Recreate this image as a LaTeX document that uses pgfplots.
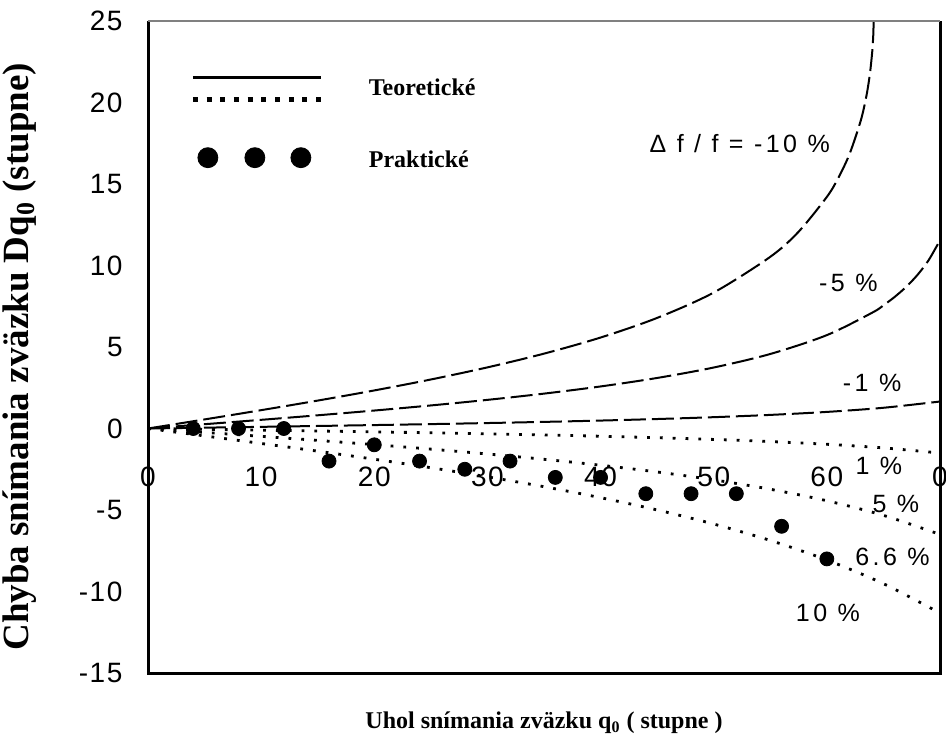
\documentclass[border=0pt]{standalone}
\usepackage{pgfplots}
\pgfplotsset{compat=1.18}
\usepackage{fontspec}
\setmainfont{Liberation Serif}
\newfontfamily\hv[LetterSpace=6]{Liberation Sans}
\newfontfamily\hvw[LetterSpace=14]{Liberation Sans}

% Theoretical error of the beam angle for several focal deviations
\pgfplotstableread{
x      m10     m5      m1      p1      p5      p10
0      0       0       0       0       0       0
5      0.557   0.264   0.051  -0.050  -0.238  -0.455
10     1.125   0.532   0.102  -0.100  -0.481  -0.917
15     1.713   0.810   0.155  -0.152  -0.730  -1.391
20     2.335   1.102   0.211  -0.206  -0.990  -1.885
25     3.007   1.415   0.270  -0.264  -1.266  -2.406
30     3.750   1.757   0.335  -0.327  -1.563  -2.964
35     4.593   2.140   0.406  -0.396  -1.889  -3.571
40     5.581   2.580   0.487  -0.474  -2.253  -4.243
45     6.785   3.101   0.582  -0.565  -2.667  -4.997
50     8.341   3.742   0.695  -0.671  -3.150  -5.861
55     10.533  4.572   0.835  -0.802  -3.726  -6.868
60     14.21   5.729   1.018  -0.968  -4.433  -8.067
65     nan     7.556   1.272  -1.190  -5.328  -9.521
70     nan     11.551  1.656  -1.505  -6.499  -11.321
}\theory

\pgfplotsset{
  neg/.style={black, line width=1pt, dash pattern=on 11pt off 3pt, smooth, forget plot},
  pos/.style={black, line width=1.4pt, dash pattern=on 1.4pt off 5pt, smooth, forget plot},
}

\begin{document}
\begin{tikzpicture}
\path[use as bounding box] (-74pt,-38.5pt) rectangle (399pt,336.5pt);
\begin{axis}[
  at={(0,0)}, anchor=south west,
  scale only axis, width=396pt, height=326pt,
  xmin=0, xmax=70, ymin=-15, ymax=25,
  axis line style={draw=none},
  major tick length=0pt,
  xtick={0,10,...,70}, xticklabels={0,10,20,30,40,50,60,0},
  ytick={-15,-10,...,25}, yticklabels={-15,-10,-5,0,5,10,15,20,25},
  tick label style={font=\hv\fontsize{14}{16}\selectfont, inner sep=0pt},
  xticklabel style={anchor=center, yshift=98pt},
  yticklabel style={anchor=east, xshift=-12.5pt},
  xlabel={Uhol snímania zväzku q\textsubscript{0} ( stupne )},
  ylabel={Chyba snímania zväzku Dq\textsubscript{0} (stupne)},
  xlabel style={at={(axis description cs:0.5,-0.0851)}, anchor=base,
    font=\bfseries\fontsize{12}{14}\selectfont},
  ylabel style={at={(axis description cs:-0.1616,0.485)}, anchor=center,
    font=\bfseries\fontsize{18.5}{20}\selectfont},
  legend style={at={(axis cs:3.71,22.1)}, anchor=north west, draw=none,
    fill=none, inner sep=0pt, row sep=16pt,
    font=\bfseries\fontsize{12}{14}\selectfont, nodes={inner sep=0pt}},
  legend cell align=left,
]
\addlegendimage{legend image code/.code={
  \path[draw=none, fill=none] (0pt,-10pt) rectangle (88pt,10pt);
  \draw[black, line width=1.3pt] (0pt,5.5pt) -- (64pt,5.5pt);
  \draw[black, line width=2.5pt, dash pattern=on 2.5pt off 4.35pt] (0pt,-5.5pt) -- (64pt,-5.5pt);
}}
\addlegendentry{Teoretické}
\addlegendimage{legend image code/.code={
  \path[draw=none, fill=none] (0pt,-10pt) rectangle (88pt,10pt);
  \fill[black] (7.5pt,1.5pt) circle (5pt);
  \fill[black] (31pt,1.5pt) circle (5pt);
  \fill[black] (54pt,1.5pt) circle (5pt);
}}
\addlegendentry{Praktické}

% -10 % curve, rising steeply towards its limit angle
\addplot[neg] coordinates {
  (0,0) (5,0.557) (10,1.125) (15,1.713) (20,2.335) (25,3.007) (30,3.750)
  (35,4.593) (40,5.581) (45,6.785) (50,8.341) (55,10.533) (57.5,12.07)
  (60,14.21) (61,15.36) (62,16.83) (63,18.90) (63.5,20.42) (63.8,21.73)
  (64,23.03) (64.05,23.50) (64.1,24.1) (64.15,25.19)};
\addplot[neg] coordinates {
  (0,0) (5,0.264) (10,0.532) (15,0.810) (20,1.102) (25,1.415) (30,1.757)
  (35,2.140) (40,2.580) (45,3.101) (50,3.742) (55,4.572) (60,5.729)
  (64,7.103) (65,7.556) (66,8.077) (67,8.684) (68,9.416) (69,10.332) (70,11.551)};
\addplot[neg] table[x=x, y=m1] {\theory};
\addplot[pos] table[x=x, y=p1] {\theory};
\addplot[pos] table[x=x, y=p5] {\theory};
\addplot[pos] table[x=x, y=p10] {\theory};

% measured values
\addplot[only marks, mark=*, mark size=3.5pt, black, forget plot] coordinates {
  (4,0) (8,0) (12,0) (16,-2) (20,-1) (24,-2) (28,-2.5) (32,-2) (36,-3)
  (40,-3) (44,-4) (48,-4) (52,-4) (56,-6) (60,-8)};

\begin{scope}[font=\hvw\fontsize{12.5}{14}\selectfont]
\node at (axis cs:52.3,17.5) {Δ f / f = -10 \%};
\node at (axis cs:61.9,8.9) {-5 \%};
\node at (axis cs:64.0,2.8) {-1 \%};
\node at (axis cs:64.6,-2.3) {1 \%};
\node at (axis cs:66.1,-4.6) {5 \%};
\node at (axis cs:65.8,-7.9) {6.6 \%};
\node at (axis cs:60.1,-11.3) {10 \%};
\end{scope}
\end{axis}
% frame: heavy on three sides, thin on top
\draw[black, line width=1.5pt] (0pt,326pt) -- (0pt,0pt) -- (396pt,0pt) -- (396pt,326pt);
\draw[gray, line width=0.6pt] (0pt,326pt) -- (396pt,326pt);
\end{tikzpicture}
\end{document}
